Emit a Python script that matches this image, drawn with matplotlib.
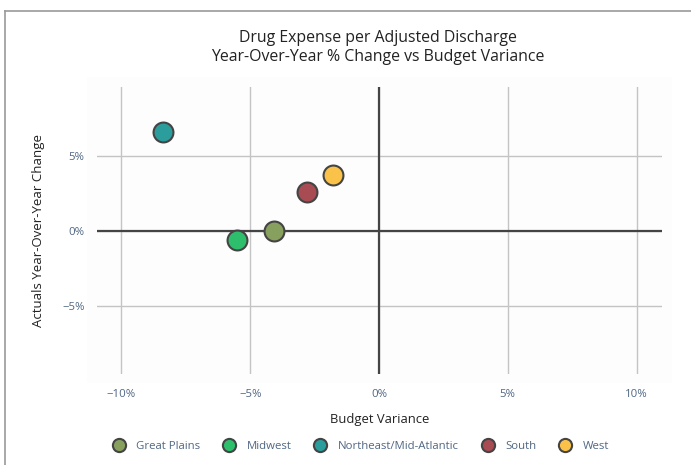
import matplotlib
matplotlib.use("Agg")
import matplotlib.pyplot as plt
from matplotlib.patches import Rectangle
from matplotlib.ticker import FuncFormatter
from matplotlib.lines import Line2D

regions = ["Great Plains", "Midwest", "Northeast/Mid-Atlantic", "South", "West"]
budget_variance = [-4.07, -5.53, -8.40, -2.80, -1.80]
yoy_change = [0.02, -0.60, 6.62, 2.58, 3.75]
colors = ["#87a05e", "#2dbf6c", "#2a9d9c", "#a84b53", "#fbc24a"]
x_ticks = [-10, -5, 0, 5, 10]
y_ticks = [-5, 0, 5]

plt.rcParams['font.family'] = ['Open Sans', 'DejaVu Sans']

W, H = 691, 465
fig = plt.figure(figsize=(W / 100, H / 100), dpi=100)
fig.patch.set_facecolor("white")

def fx(px):
    return px / W

def fy(py):
    return 1 - py / H

# card border (left and top)
fig.add_artist(Line2D([fx(4.5), fx(4.5)], [fy(11), 0], color="#999999", lw=1.2))
fig.add_artist(Line2D([fx(4.5), 1], [fy(11), fy(11)], color="#999999", lw=1.2))

# plot background
fig.add_artist(Rectangle((fx(87), fy(383)), fx(672) - fx(87), fy(77) - fy(383),
                         facecolor="#fdfdfd", edgecolor="none", zorder=0))

ax = fig.add_axes([fx(97), fy(374), fx(662) - fx(97), fy(87) - fy(374)])
ax.set_facecolor("none")
ax.set_xlim(-10.95, 10.99)
ax.set_ylim(-9.53, 9.6)

for s in ax.spines.values():
    s.set_visible(False)

ax.set_xticks(x_ticks)
ax.set_yticks(y_ticks)
pct = FuncFormatter(lambda v, p: ("\u2212" if v < 0 else "") + f"{abs(int(v))}%")
ax.xaxis.set_major_formatter(pct)
ax.yaxis.set_major_formatter(pct)
ax.tick_params(axis="both", length=0, labelsize=8.2, labelcolor="#506784")
ax.tick_params(axis="x", pad=11)
ax.tick_params(axis="y", pad=9)

ax.grid(True, color="#c4c4c4", lw=1)
ax.set_axisbelow(True)
ax.axhline(0, color="#444444", lw=1.6, zorder=1)
ax.axvline(0, color="#444444", lw=1.6, zorder=1)

for name, xv, yv, c in zip(regions, budget_variance, yoy_change, colors):
    ax.scatter([xv], [yv], s=205, color=c, edgecolor="#444444", linewidth=1.5, zorder=3, label=name)

ax.set_xlabel("Budget Variance", fontsize=9.4, color="#222222", labelpad=9)
ax.set_ylabel("Actuals Year-Over-Year Change", fontsize=9.5, color="#222222", labelpad=12)

fig.text(fx(378), fy(38), "Drug Expense per Adjusted Discharge", ha="center", va="center",
         fontsize=11.4, color="#222222")
fig.text(fx(378), fy(57), "Year-Over-Year % Change vs Budget Variance", ha="center", va="center",
         fontsize=11.4, color="#222222")

handles = [Line2D([], [], marker="o", ls="none", markersize=9.5, markerfacecolor=c,
                  markeredgecolor="#444444", markeredgewidth=1.5) for c in colors]
leg = fig.legend(handles, regions, loc="center left", bbox_to_anchor=(fx(113), fy(446)),
                 ncol=5, frameon=False, fontsize=8.2, handletextpad=1.03, columnspacing=2.04,
                 handlelength=1.0, borderaxespad=0, borderpad=0)
for t in leg.get_texts():
    t.set_color("#506784")

fig.savefig("out.png", dpi=100)
